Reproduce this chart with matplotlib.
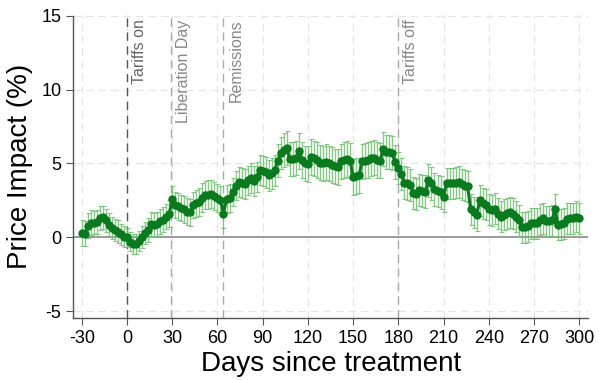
import numpy as np
import matplotlib
matplotlib.use("Agg")
import matplotlib.pyplot as plt

plt.rcParams['font.family'] = ['Liberation Sans', 'DejaVu Sans']
plt.rcParams['axes.unicode_minus'] = False

# days since treatment, every second day
days = list(range(-30, 301, 2))

# point estimates (%)
impact = [
    0.30, 0.25, 0.80, 1.00, 1.00, 1.05, 1.30, 1.35, 1.15, 0.85,    # -30 .. -12
    0.65, 0.50, 0.40, 0.20, 0.05, 0.00, -0.30, -0.45, -0.45, -0.25,  # -10 .. 8
    0.05, 0.30, 0.50, 0.90, 0.85, 0.90, 1.10, 1.20, 1.40, 1.60,    # 10 .. 28
    2.60, 2.20, 2.10, 2.00, 1.90, 1.75, 1.70, 2.20, 2.30, 2.40,    # 30 .. 48
    2.70, 2.85, 2.90, 2.95, 2.80, 2.65, 2.55, 1.60, 2.60, 2.65,    # 50 .. 68
    3.10, 3.50, 3.75, 3.70, 3.60, 3.85, 4.00, 3.80, 4.10, 4.55,    # 70 .. 88
    4.50, 4.40, 4.20, 4.35, 4.55, 5.20, 5.70, 5.90, 6.05, 5.30,    # 90 .. 108
    5.30, 5.35, 5.85, 5.25, 5.00, 4.95, 5.45, 5.35, 5.25, 5.05,    # 110 .. 128
    5.00, 5.10, 5.00, 4.90, 4.80, 4.75, 5.15, 5.25, 5.30, 5.20,    # 130 .. 148
    4.10, 4.15, 4.20, 5.15, 5.20, 5.25, 5.35, 5.40, 5.25, 5.20,    # 150 .. 168
    6.00, 5.80, 5.75, 5.70, 5.10, 4.70, 4.30, 3.70, 3.65, 3.55,    # 170 .. 188
    3.00, 2.95, 3.20, 3.15, 3.10, 3.85, 3.65, 3.25, 3.15, 3.05,    # 190 .. 208
    2.75, 3.65, 3.65, 3.65, 3.70, 3.75, 3.60, 3.50, 3.45, 1.90,    # 210 .. 228
    1.70, 1.50, 2.50, 2.30, 2.20, 1.90, 1.85, 1.95, 1.60, 1.40,    # 230 .. 248
    1.55, 1.65, 1.70, 1.60, 1.40, 1.15, 0.70, 0.70, 0.75, 0.95,    # 250 .. 268
    0.95, 0.95, 1.20, 1.30, 1.10, 1.10, 1.15, 1.90, 0.85, 0.90,    # 270 .. 288
    0.95, 1.25, 1.30, 1.30, 1.40, 1.30,                            # 290 .. 300
]

# half-width of the confidence bands
ci = [
    0.85, 0.85, 0.85, 0.85, 0.80, 0.80, 0.80, 0.80, 0.80, 0.80,
    0.75, 0.75, 0.75, 0.70, 0.70, 0.65, 0.65, 0.65, 0.70, 0.70,
    0.75, 0.75, 0.80, 0.80, 0.80, 0.80, 0.85, 0.85, 0.85, 0.90,
    0.90, 0.90, 0.90, 0.90, 0.90, 0.90, 0.90, 0.90, 0.90, 0.95,
    0.95, 0.95, 0.95, 0.95, 0.95, 0.95, 0.95, 0.95, 0.95, 0.95,
    0.95, 1.00, 1.00, 1.00, 1.00, 1.00, 1.00, 1.00, 1.00, 1.00,
    1.00, 1.05, 1.05, 1.05, 1.05, 1.10, 1.10, 1.15, 1.15, 1.15,
    1.15, 1.15, 1.20, 1.20, 1.20, 1.20, 1.20, 1.20, 1.20, 1.20,
    1.20, 1.20, 1.20, 1.20, 1.20, 1.20, 1.20, 1.20, 1.20, 1.20,
    1.20, 1.20, 1.20, 1.20, 1.20, 1.20, 1.20, 1.20, 1.20, 1.20,
    1.15, 1.15, 1.15, 1.15, 1.15, 1.10, 1.10, 1.10, 1.10, 1.10,
    1.10, 1.10, 1.10, 1.10, 1.10, 1.10, 1.10, 1.10, 1.10, 1.10,
    1.05, 1.05, 1.05, 1.05, 1.05, 1.05, 1.05, 1.05, 1.05, 1.05,
    1.05, 1.05, 1.05, 1.05, 1.05, 1.05, 1.05, 1.05, 1.05, 1.05,
    1.05, 1.05, 1.05, 1.05, 1.05, 1.05, 1.05, 1.05, 1.05, 1.05,
    1.05, 1.05, 1.05, 1.05, 1.05, 1.05, 1.05, 1.05, 1.05, 1.05,
    1.05, 1.05, 1.05, 1.05, 1.05, 1.05,
]

events = [0, 29, 64, 180]
event_labels = ['Tariffs on', 'Liberation Day', 'Remissions', 'Tariffs off']
event_colors = ['#555555', '#aaaaaa', '#aaaaaa', '#aaaaaa']
text_colors = ['#666666', '#888888', '#888888', '#888888']

xticks = list(range(-30, 301, 30))
yticks = [-5, 0, 5, 10, 15]

fig = plt.figure(figsize=(5.99, 3.8), dpi=100)
ax = fig.add_axes([0.122, 0.163, 0.860, 0.798])

# light dashed grid
for xt in xticks:
    ax.axvline(xt, color='#e6e6e6', linestyle=(0, (6, 4)), linewidth=0.9, zorder=0)
for yt in yticks:
    if yt != 0:
        ax.axhline(yt, color='#e6e6e6', linestyle=(0, (6, 4)), linewidth=0.9, zorder=0)
ax.axhline(0, color='#8a8a8a', linewidth=1.2, zorder=1)

for d, lab, c, tc in zip(events, event_labels, event_colors, text_colors):
    ax.axvline(d, color=c, linestyle=(0, (6, 4)), linewidth=1.0, zorder=1)
    ax.text(d + 3.2, 14.75, lab, rotation=90, ha='left', va='top',
            fontsize=11.5, color=tc)

ax.errorbar(days, impact, yerr=ci, fmt='none', ecolor='#74bf74', elinewidth=1.0,
            capsize=1.8, capthick=0.8, alpha=0.85, zorder=2)
ax.plot(days, impact, color='#0a7a1e', linewidth=2.2, marker='o', markersize=5,
        zorder=3)

ax.set_xlim(-35.8, 306)
ax.set_ylim(-5.45, 15.05)
ax.set_xticks(xticks)
ax.set_yticks(yticks)
ax.tick_params(axis='both', labelsize=13, length=5, color='#555555', direction='out')

for s in ['top', 'right']:
    ax.spines[s].set_visible(False)
for s in ['left', 'bottom']:
    ax.spines[s].set_color('#555555')
    ax.spines[s].set_linewidth(1.0)
ax.spines['left'].set_bounds(-5.45, 15)

ax.set_xlabel('Days since treatment', fontsize=20, labelpad=3)
ax.set_ylabel('Price Impact (%)', fontsize=20, labelpad=6)

fig.savefig('out.png', dpi=100)
